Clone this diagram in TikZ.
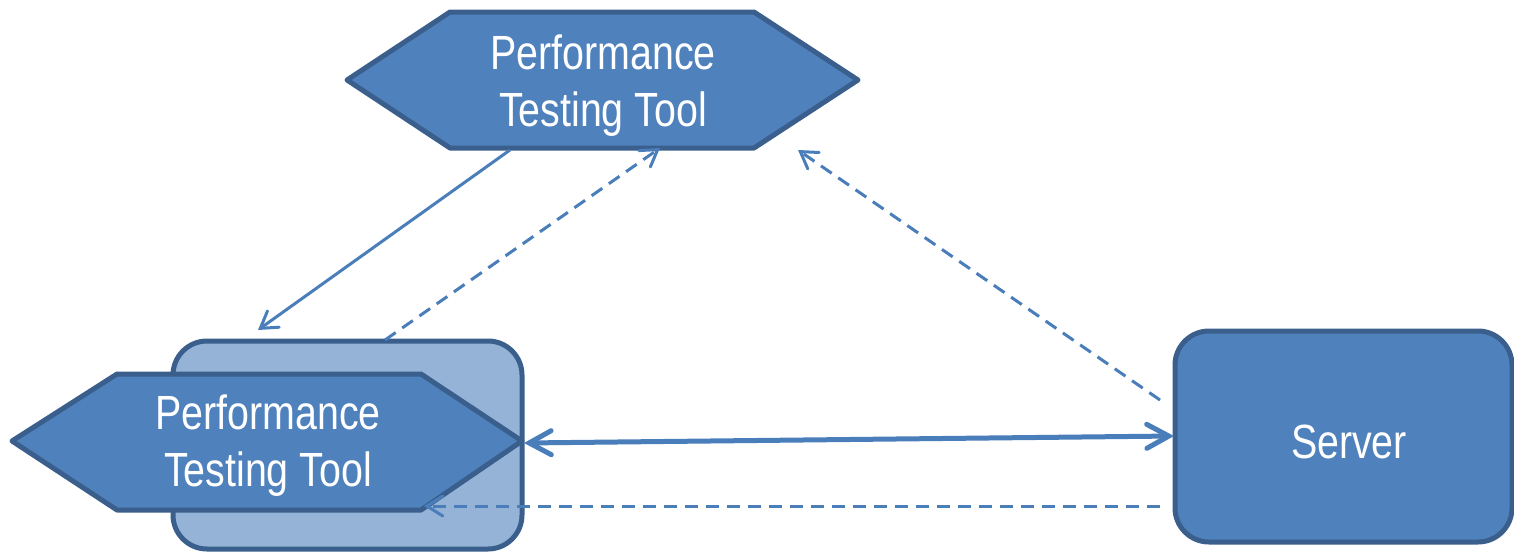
\documentclass[tikz,border=0pt]{standalone}
\usepackage{fontspec}
\setmainfont{Liberation Sans}[FakeStretch=0.82]
\usetikzlibrary{arrows.meta}
\definecolor{fillblue}{HTML}{4F81BD}
\definecolor{edgeblue}{HTML}{3A5F8C}
\definecolor{lightblue}{HTML}{95B3D7}
\definecolor{lineblue}{HTML}{4A7EBB}
\tikzset{
  shapebox/.style={fill=fillblue, draw=edgeblue, line width=2.5pt, line join=round},
  lightbox/.style={fill=lightblue, draw=edgeblue, line width=2.5pt},
  label/.style={text=white, font=\fontsize{24}{28.5}\selectfont, align=center, inner sep=0pt},
  thinarrow/.style={draw=lineblue, line width=1.5pt, -{Straight Barb[length=8pt,width=10pt,line cap=round]}},
  dasharrow/.style={thinarrow, dash pattern=on 6.5pt off 4pt},
  thickarrow/.style={draw=lineblue, line width=2.5pt, {Straight Barb[length=11pt,width=12pt,line cap=round]}-{Straight Barb[length=11pt,width=12pt,line cap=round]}}
}
\begin{document}
\begin{tikzpicture}[x=0.5pt,y=-0.5pt]
\useasboundingbox (0,0) rectangle (1514,552);
% light rounded rectangle behind bottom hexagon
\draw[lightbox, rounded corners=17pt] (173,341) rectangle (522,549);
% bottom hexagon
\draw[shapebox] (12,441) -- (117,374) -- (421,374) -- (522,441) -- (421,510) -- (117,510) -- cycle;
\node[label] (ptt2) at (268,446) {Performance\\Testing Tool};
% top hexagon
\draw[shapebox] (347,80) -- (450,12) -- (754,12) -- (858,80) -- (754,148) -- (450,148) -- cycle;
\node[label] (ptt1) at (603,86) {Performance\\Testing Tool};
% server
\draw[shapebox, rounded corners=17pt] (1175,331) rectangle (1512,542);
\node[label] (server) at (1349,442) {Server};
% connector endpoints
\coordinate (t1) at (510,150);
\coordinate (b1) at (258,330);
\coordinate (b2) at (385,340);
\coordinate (t2) at (660,148);
\coordinate (s1) at (1160,400);
\coordinate (t3) at (798,150);
\coordinate (h1) at (524,443);
\coordinate (s2) at (1174,436);
\coordinate (s3) at (1160,506);
\coordinate (h2) at (424,506);
% connectors
\draw[thinarrow] (t1) -- (b1);
\draw[dasharrow] (b2) -- (t2);
\draw[dasharrow] (s1) -- (t3);
\draw[thickarrow] (h1) -- (s2);
\draw[dasharrow] (s3) -- (h2);
\end{tikzpicture}
\end{document}
